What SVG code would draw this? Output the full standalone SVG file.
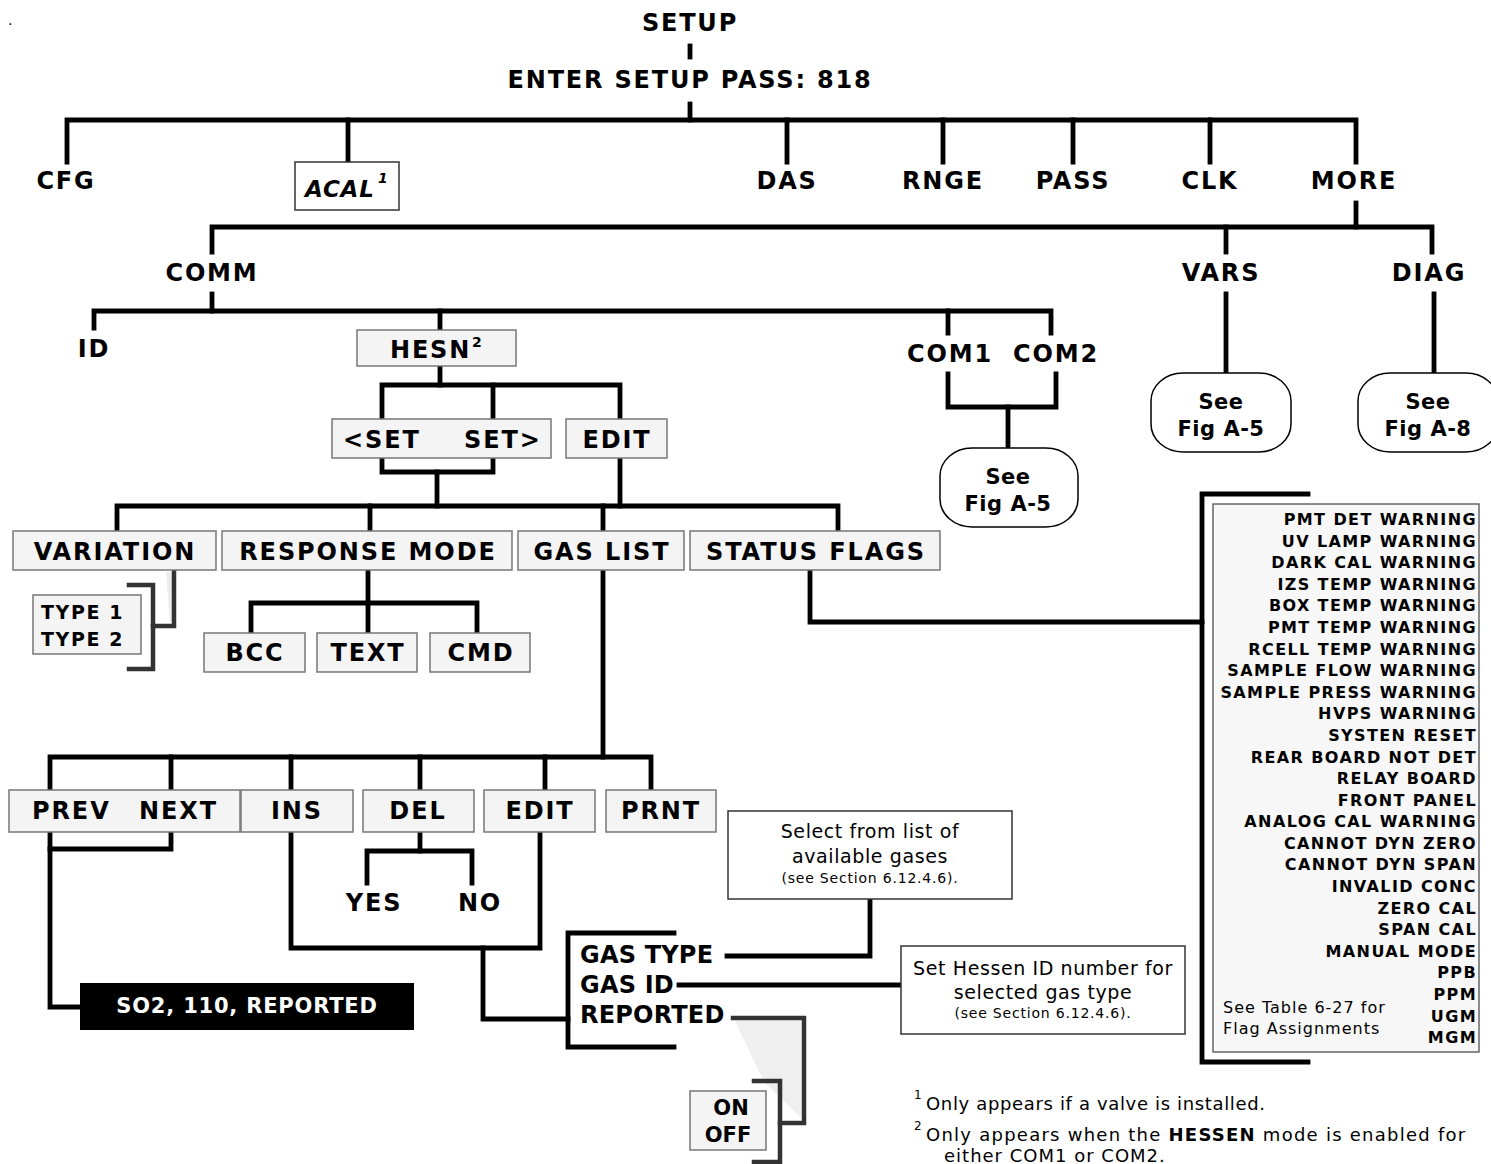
<svg xmlns="http://www.w3.org/2000/svg" width="1491" height="1164" viewBox="0 0 1491 1164">
<style>
text{font-family:"DejaVu Sans","Verdana",sans-serif;fill:#000}
.lbl{font-size:24px;font-weight:bold;letter-spacing:1.8px}
.bl{font-size:24px;font-weight:bold;letter-spacing:1.9px}
.sm{font-size:19px;font-weight:bold;letter-spacing:1.6px}
.gas{font-size:24px;font-weight:bold;letter-spacing:0.2px}
.see{font-size:21px;font-weight:bold;letter-spacing:0.5px}
.flag{font-size:16px;font-weight:bold;letter-spacing:1.4px;text-anchor:end}
.note{font-size:19px;letter-spacing:0.6px}
.note2{font-size:14px;letter-spacing:0.8px}
.foot{font-size:18px;letter-spacing:0.65px}
.sup{font-size:12px}
.mid{text-anchor:middle}
.box{fill:#f4f4f4;stroke:#777;stroke-width:1.5}
.wbox{fill:#fff;stroke:#333;stroke-width:1.5}
.oval{fill:#fff;stroke:#000;stroke-width:1.5}
.c{fill:none;stroke:#000;stroke-width:4.8;stroke-linecap:square;stroke-linejoin:miter}
.g{fill:none;stroke:#333;stroke-width:4.5;stroke-linecap:square;stroke-linejoin:miter}
</style>

<text x="8" y="25" style="font-size:14px">.</text>

<g id="connectors">
  <path class="c" d="M690,46 V57"/>
  <path class="c" d="M690,104 V120"/>
  <path class="c" d="M67,162 V120 H1356 V162"/>
  <path class="c" d="M348,120 V162 M787,120 V162 M943,120 V162 M1073,120 V162 M1210,120 V162"/>
  <path class="c" d="M1356,203 V227"/>
  <path class="c" d="M212,252 V227 H1432 V252"/>
  <path class="c" d="M1226,227 V252"/>
  <path class="c" d="M212,294 V311"/>
  <path class="c" d="M94,328 V311 H1051 V333"/>
  <path class="c" d="M948,311 V333 M440,311 V330"/>
  <path class="c" d="M1226,294 V373 M1434,294 V373"/>
  <path class="c" d="M948,374 V407 H1056 V374"/>
  <path class="c" d="M1008,407 V448"/>
  <path class="c" d="M440,366 V385"/>
  <path class="c" d="M382,419 V385 H620 V419"/>
  <path class="c" d="M493,385 V419"/>
  <path class="c" d="M382,458 V472 H493 V458"/>
  <path class="c" d="M437,472 V506"/>
  <path class="c" d="M620,458 V506"/>
  <path class="c" d="M117,531 V506 H838 V531"/>
  <path class="c" d="M370,506 V531 M603,506 V531"/>
  <polygon points="166,572 174,572 174,622 170,622" fill="#ececec"/>
  <path class="g" d="M174,570 V626 H153"/>
  <path class="g" d="M129,585 H153 V669 H129"/>
  <path class="c" d="M368,570 V603"/>
  <path class="c" d="M251,633 V603 H477 V633"/>
  <path class="c" d="M368,603 V633"/>
  <path class="c" d="M810,570 V622 H1202"/>
  <path class="c" d="M1308,494 H1202 V1062 H1308"/>
  <path class="c" d="M603,570 V757"/>
  <path class="c" d="M50,790 V757 H651 V790"/>
  <path class="c" d="M171,757 V790 M291,757 V790 M420,757 V790 M545,757 V790"/>
  <path class="c" d="M50,832 V849 H171 V832"/>
  <path class="c" d="M50,849 V1007 H80"/>
  <path class="c" d="M420,832 V851"/>
  <path class="c" d="M367,883 V851 H472 V883"/>
  <path class="c" d="M291,832 V948 H540 V832"/>
  <path class="c" d="M483,948 V1019 H568"/>
  <path class="c" d="M674,933 H568 V1047 H674"/>
  <path class="c" d="M727,956 H870 V899"/>
  <path class="c" d="M679,985 H901"/>
  <polygon points="735,1021 801,1021 801,1118 764,1082" fill="#efefef"/>
  <path class="g" d="M733,1018 H804 V1123 H780"/>
  <path class="g" d="M754,1081 H780 V1162 H754"/>
</g>

<g id="setup"><text class="lbl mid" x="690" y="31">SETUP</text></g>
<g id="enter"><text class="lbl mid" x="690" y="88">ENTER SETUP PASS: 818</text></g>

<g id="cfg"><text class="lbl mid" x="66" y="189">CFG</text></g>
<g id="acal">
  <rect class="wbox" x="295" y="162" width="104" height="48"/>
  <text x="305" y="197" style="font-size:23px;font-weight:bold;font-style:italic;letter-spacing:0.8px">ACAL</text>
  <text x="378" y="183" style="font-size:14px;font-weight:bold;font-style:italic">1</text>
</g>
<g id="das"><text class="lbl mid" x="787" y="189">DAS</text></g>
<g id="rnge"><text class="lbl mid" x="943" y="189">RNGE</text></g>
<g id="pass"><text class="lbl mid" x="1073" y="189">PASS</text></g>
<g id="clk"><text class="lbl mid" x="1210" y="189">CLK</text></g>
<g id="more"><text class="lbl mid" x="1354" y="189">MORE</text></g>

<g id="comm"><text class="lbl mid" x="212" y="281">COMM</text></g>
<g id="vars"><text class="lbl mid" x="1221" y="281">VARS</text></g>
<g id="diag"><text class="lbl mid" x="1429" y="281">DIAG</text></g>

<g id="id"><text class="lbl mid" x="94" y="357">ID</text></g>
<g id="hesn">
  <rect class="box" x="357" y="330" width="159" height="36"/>
  <text class="lbl" x="390" y="358">HESN</text>
  <text x="472" y="347" style="font-size:14px;font-weight:bold">2</text>
</g>
<g id="com12">
  <text class="lbl mid" x="950" y="362">COM1</text>
  <text class="lbl mid" x="1056" y="362">COM2</text>
</g>

<g id="see-comm">
  <rect class="oval" x="940" y="448" width="138" height="79" rx="32" ry="28"/>
  <text class="see mid" x="1008" y="484">See</text>
  <text class="see mid" x="1008" y="511">Fig A-5</text>
</g>
<g id="see-vars">
  <rect class="oval" x="1151" y="373" width="140" height="79" rx="32" ry="28"/>
  <text class="see mid" x="1221" y="409">See</text>
  <text class="see mid" x="1221" y="436">Fig A-5</text>
</g>
<g id="see-diag">
  <rect class="oval" x="1358" y="373" width="140" height="79" rx="32" ry="28"/>
  <text class="see mid" x="1428" y="409">See</text>
  <text class="see mid" x="1428" y="436">Fig A-8</text>
</g>

<g id="set">
  <rect class="box" x="332" y="419" width="219" height="39"/>
  <text class="bl" x="343" y="448">&lt;SET</text>
  <text class="bl" x="464" y="448">SET&gt;</text>
</g>
<g id="edit1">
  <rect class="box" x="566" y="419" width="101" height="39"/>
  <text class="bl mid" x="617" y="448">EDIT</text>
</g>

<g id="variation">
  <rect class="box" x="13" y="531" width="203" height="39"/>
  <text class="bl mid" x="115" y="560">VARIATION</text>
</g>
<g id="response">
  <rect class="box" x="222" y="531" width="290" height="39"/>
  <text class="bl mid" x="368" y="560">RESPONSE MODE</text>
</g>
<g id="gaslist">
  <rect class="box" x="518" y="531" width="166" height="39"/>
  <text class="bl mid" x="602" y="560">GAS LIST</text>
</g>
<g id="status">
  <rect class="box" x="690" y="531" width="250" height="39"/>
  <text class="bl mid" x="816" y="560">STATUS FLAGS</text>
</g>

<g id="type">
  <rect class="box" x="33" y="595" width="108" height="59"/>
  <text class="sm" x="41" y="619">TYPE 1</text>
  <text class="sm" x="41" y="646">TYPE 2</text>
</g>

<g id="bcc"><rect class="box" x="204" y="633" width="101" height="39"/><text class="bl mid" x="255" y="661">BCC</text></g>
<g id="text"><rect class="box" x="317" y="633" width="100" height="39"/><text class="bl mid" x="368" y="661">TEXT</text></g>
<g id="cmd"><rect class="box" x="430" y="633" width="100" height="39"/><text class="bl mid" x="481" y="661">CMD</text></g>

<g id="flags">
  <rect x="1213" y="504" width="266" height="548" fill="#f7f7f7" stroke="#666" stroke-width="1.5"/>
  <text class="flag" x="1477" y="525">PMT DET WARNING</text>
  <text class="flag" x="1477" y="547">UV LAMP WARNING</text>
  <text class="flag" x="1477" y="568">DARK CAL WARNING</text>
  <text class="flag" x="1477" y="590">IZS TEMP WARNING</text>
  <text class="flag" x="1477" y="611">BOX TEMP WARNING</text>
  <text class="flag" x="1477" y="633">PMT TEMP WARNING</text>
  <text class="flag" x="1477" y="655">RCELL TEMP WARNING</text>
  <text class="flag" x="1477" y="676">SAMPLE FLOW WARNING</text>
  <text class="flag" x="1477" y="698">SAMPLE PRESS WARNING</text>
  <text class="flag" x="1477" y="719">HVPS WARNING</text>
  <text class="flag" x="1477" y="741">SYSTEN RESET</text>
  <text class="flag" x="1477" y="763">REAR BOARD NOT DET</text>
  <text class="flag" x="1477" y="784">RELAY BOARD</text>
  <text class="flag" x="1477" y="806">FRONT PANEL</text>
  <text class="flag" x="1477" y="827">ANALOG CAL WARNING</text>
  <text class="flag" x="1477" y="849">CANNOT DYN ZERO</text>
  <text class="flag" x="1477" y="870">CANNOT DYN SPAN</text>
  <text class="flag" x="1477" y="892">INVALID CONC</text>
  <text class="flag" x="1477" y="914">ZERO CAL</text>
  <text class="flag" x="1477" y="935">SPAN CAL</text>
  <text class="flag" x="1477" y="957">MANUAL MODE</text>
  <text class="flag" x="1477" y="978">PPB</text>
  <text class="flag" x="1477" y="1000">PPM</text>
  <text class="flag" x="1477" y="1022">UGM</text>
  <text class="flag" x="1477" y="1043">MGM</text>
  <text x="1223" y="1013" style="font-size:16px;letter-spacing:1px">See Table 6-27 for</text>
  <text x="1223" y="1034" style="font-size:16px;letter-spacing:1px">Flag Assignments</text>
</g>

<g id="prevnext">
  <rect class="box" x="9" y="790" width="231" height="42"/>
  <text class="bl" x="32" y="819">PREV</text>
  <text class="bl" x="139" y="819">NEXT</text>
</g>
<g id="ins"><rect class="box" x="241" y="790" width="112" height="42"/><text class="bl mid" x="297" y="819">INS</text></g>
<g id="del"><rect class="box" x="363" y="790" width="111" height="42"/><text class="bl mid" x="418" y="819">DEL</text></g>
<g id="edit2"><rect class="box" x="484" y="790" width="111" height="42"/><text class="bl mid" x="540" y="819">EDIT</text></g>
<g id="prnt"><rect class="box" x="606" y="790" width="110" height="42"/><text class="bl mid" x="661" y="819">PRNT</text></g>

<g id="yes"><text class="lbl mid" x="374" y="911">YES</text></g>
<g id="no"><text class="lbl mid" x="480" y="911">NO</text></g>

<g id="so2">
  <rect x="80" y="983" width="334" height="47" fill="#000"/>
  <text x="247" y="1013" style="font-size:21px;font-weight:bold;letter-spacing:0.8px;fill:#fff;text-anchor:middle">SO2, 110, REPORTED</text>
</g>

<g id="gasitems">
  <text class="gas" x="580" y="963">GAS TYPE</text>
  <text class="gas" x="580" y="993">GAS ID</text>
  <text class="gas" x="580" y="1023">REPORTED</text>
</g>

<g id="select">
  <rect class="wbox" x="728" y="811" width="284" height="88"/>
  <text class="note mid" x="870" y="838">Select from list of</text>
  <text class="note mid" x="870" y="863">available gases</text>
  <text class="note2 mid" x="870" y="883">(see Section 6.12.4.6).</text>
</g>
<g id="hessenid">
  <rect class="wbox" x="901" y="946" width="284" height="88"/>
  <text class="note mid" x="1043" y="975">Set Hessen ID number for</text>
  <text class="note mid" x="1043" y="999">selected gas type</text>
  <text class="note2 mid" x="1043" y="1018">(see Section 6.12.4.6).</text>
</g>

<g id="onoff">
  <rect class="box" x="690" y="1091" width="76" height="59"/>
  <text x="731" y="1115" style="font-size:21px;font-weight:bold;text-anchor:middle">ON</text>
  <text x="728" y="1142" style="font-size:21px;font-weight:bold;text-anchor:middle">OFF</text>
</g>

<g id="footnotes">
  <text class="sup" x="914" y="1099">1</text>
  <text class="foot" x="926" y="1110">Only appears if a valve is installed.</text>
  <text class="sup" x="914" y="1130">2</text>
  <text class="foot" x="926" y="1141" style="letter-spacing:1.25px">Only appears when the <tspan font-weight="bold">HESSEN</tspan> mode is enabled for</text>
  <text class="foot" x="944" y="1162" style="letter-spacing:1px">either COM1 or COM2.</text>
</g>
</svg>
